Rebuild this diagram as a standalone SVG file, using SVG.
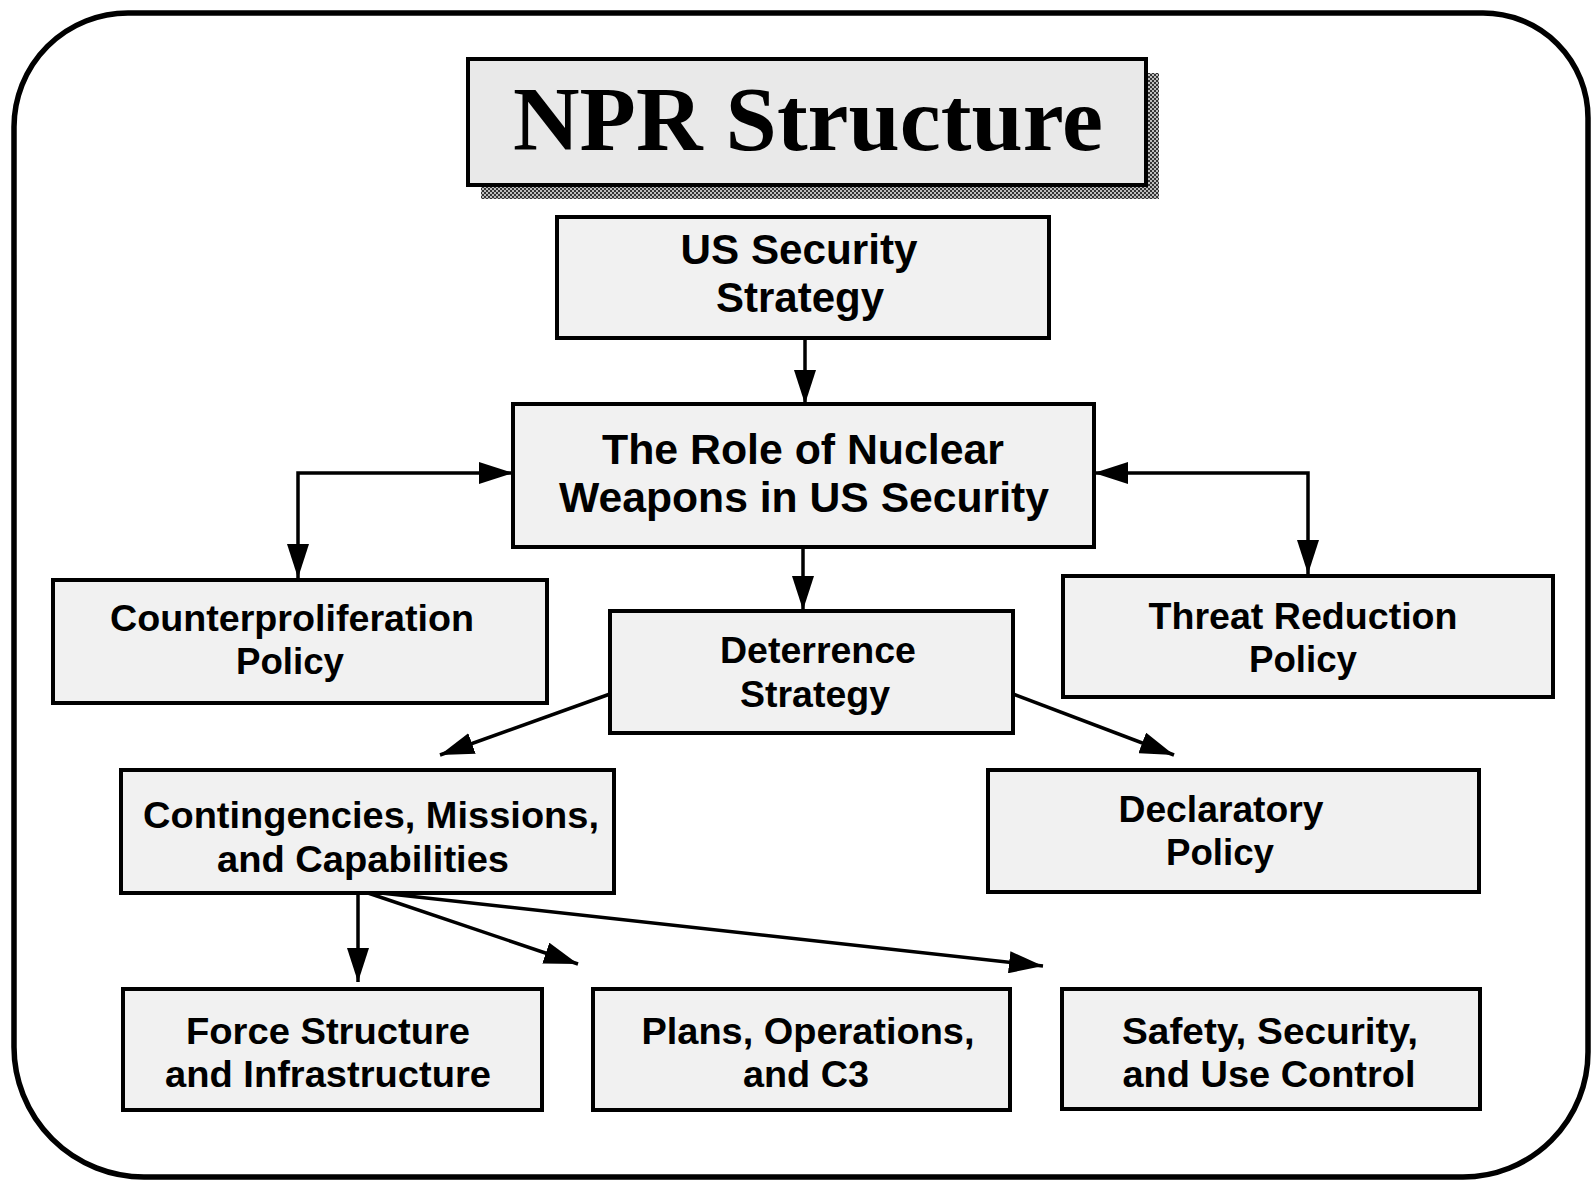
<svg xmlns="http://www.w3.org/2000/svg" width="1594" height="1187" viewBox="0 0 1594 1187">
  <defs>
    <style>
      .box { fill: #f1f1f1; stroke: #000; stroke-width: 4; }
      .lbl { font-family: "Liberation Sans", Arial, sans-serif; font-weight: bold; font-size: 37px; text-anchor: middle; fill: #000; }
      .big { font-size: 42px; }
      .title { font-family: "Liberation Serif", "Times New Roman", serif; font-weight: bold; font-size: 90px; text-anchor: middle; fill: #000; }
      .conn { stroke: #000; stroke-width: 3.5; fill: none; }
      .frame { fill: none; stroke: #000; stroke-width: 5.5; }
    </style>
    <pattern id="dither" width="4" height="4" patternUnits="userSpaceOnUse">
      <rect width="4" height="4" fill="#bdbdbd"/>
      <rect width="2" height="2" fill="#333"/>
      <rect x="2" y="2" width="2" height="2" fill="#333"/>
    </pattern>
    <marker id="arrow" viewBox="0 0 34 22" refX="34" refY="11" markerWidth="34" markerHeight="22" markerUnits="userSpaceOnUse" orient="auto-start-reverse">
      <path d="M0,0 L34,11 L0,22 z" fill="#000"/>
    </marker>
  </defs>

  <rect width="1594" height="1187" fill="#fff"/>

  <!-- outer rounded frame -->
  <path class="frame" d="M128,13 H1483 A105,105 0 0 1 1588,118 V1052 A125,125 0 0 1 1463,1177 H144 A130,130 0 0 1 14,1047 V127 A114,114 0 0 1 128,13 Z"/>

  <!-- title -->
  <g id="title">
    <rect x="481" y="73" width="678" height="126" fill="url(#dither)"/>
    <rect x="468" y="59" width="678" height="126" fill="#e9e9e9" stroke="#000" stroke-width="4"/>
    <text class="title" x="808" y="150" textLength="590" lengthAdjust="spacingAndGlyphs">NPR Structure</text>
  </g>

  <!-- connectors -->
  <g id="connectors">
    <path class="conn" d="M805,338 V404" marker-end="url(#arrow)"/>
    <path class="conn" d="M513,473 H298 V578" marker-start="url(#arrow)" marker-end="url(#arrow)"/>
    <path class="conn" d="M1094,473 H1308 V574" marker-start="url(#arrow)" marker-end="url(#arrow)"/>
    <path class="conn" d="M803,547 V610" marker-end="url(#arrow)"/>
    <path class="conn" d="M610,694 L440,755" marker-end="url(#arrow)"/>
    <path class="conn" d="M1013,694 L1174,755" marker-end="url(#arrow)"/>
    <path class="conn" d="M358,893 V982" marker-end="url(#arrow)"/>
    <path class="conn" d="M368,893 L578,964" marker-end="url(#arrow)"/>
    <path class="conn" d="M381,893 L1043,966" marker-end="url(#arrow)"/>
  </g>

  <g id="us-security-strategy">
    <rect class="box" x="557" y="217" width="492" height="121"/>
    <text class="lbl big" x="799" y="264" textLength="237" lengthAdjust="spacingAndGlyphs">US Security</text>
    <text class="lbl big" x="800" y="312" textLength="168" lengthAdjust="spacingAndGlyphs">Strategy</text>
  </g>

  <g id="role-of-nuclear-weapons">
    <rect class="box" x="513" y="404" width="581" height="143"/>
    <text class="lbl big" x="803" y="464" textLength="402" lengthAdjust="spacingAndGlyphs">The Role of Nuclear</text>
    <text class="lbl big" x="804" y="512" textLength="490" lengthAdjust="spacingAndGlyphs">Weapons in US Security</text>
  </g>

  <g id="counterproliferation-policy">
    <rect class="box" x="53" y="580" width="494" height="123"/>
    <text class="lbl" x="292" y="631" textLength="364" lengthAdjust="spacingAndGlyphs">Counterproliferation</text>
    <text class="lbl" x="290" y="674" textLength="108" lengthAdjust="spacingAndGlyphs">Policy</text>
  </g>

  <g id="deterrence-strategy">
    <rect class="box" x="610" y="611" width="403" height="122"/>
    <text class="lbl" x="818" y="663" textLength="196" lengthAdjust="spacingAndGlyphs">Deterrence</text>
    <text class="lbl" x="815" y="707" textLength="150" lengthAdjust="spacingAndGlyphs">Strategy</text>
  </g>

  <g id="threat-reduction-policy">
    <rect class="box" x="1063" y="576" width="490" height="121"/>
    <text class="lbl" x="1303" y="629" textLength="309" lengthAdjust="spacingAndGlyphs">Threat Reduction</text>
    <text class="lbl" x="1303" y="672" textLength="108" lengthAdjust="spacingAndGlyphs">Policy</text>
  </g>

  <g id="contingencies-missions-capabilities">
    <rect class="box" x="121" y="770" width="493" height="123"/>
    <text class="lbl" x="371" y="828" textLength="456" lengthAdjust="spacingAndGlyphs">Contingencies, Missions,</text>
    <text class="lbl" x="363" y="872" textLength="292" lengthAdjust="spacingAndGlyphs">and Capabilities</text>
  </g>

  <g id="declaratory-policy">
    <rect class="box" x="988" y="770" width="491" height="122"/>
    <text class="lbl" x="1221" y="822" textLength="205" lengthAdjust="spacingAndGlyphs">Declaratory</text>
    <text class="lbl" x="1220" y="865" textLength="108" lengthAdjust="spacingAndGlyphs">Policy</text>
  </g>

  <g id="force-structure">
    <rect class="box" x="123" y="989" width="419" height="121"/>
    <text class="lbl" x="328" y="1044" textLength="284" lengthAdjust="spacingAndGlyphs">Force Structure</text>
    <text class="lbl" x="328" y="1087" textLength="326" lengthAdjust="spacingAndGlyphs">and Infrastructure</text>
  </g>

  <g id="plans-operations-c3">
    <rect class="box" x="593" y="989" width="417" height="121"/>
    <text class="lbl" x="808" y="1044" textLength="333" lengthAdjust="spacingAndGlyphs">Plans, Operations,</text>
    <text class="lbl" x="806" y="1087" textLength="126" lengthAdjust="spacingAndGlyphs">and C3</text>
  </g>

  <g id="safety-security-use-control">
    <rect class="box" x="1062" y="989" width="418" height="120"/>
    <text class="lbl" x="1270" y="1044" textLength="296" lengthAdjust="spacingAndGlyphs">Safety, Security,</text>
    <text class="lbl" x="1269" y="1087" textLength="293" lengthAdjust="spacingAndGlyphs">and Use Control</text>
  </g>
</svg>
